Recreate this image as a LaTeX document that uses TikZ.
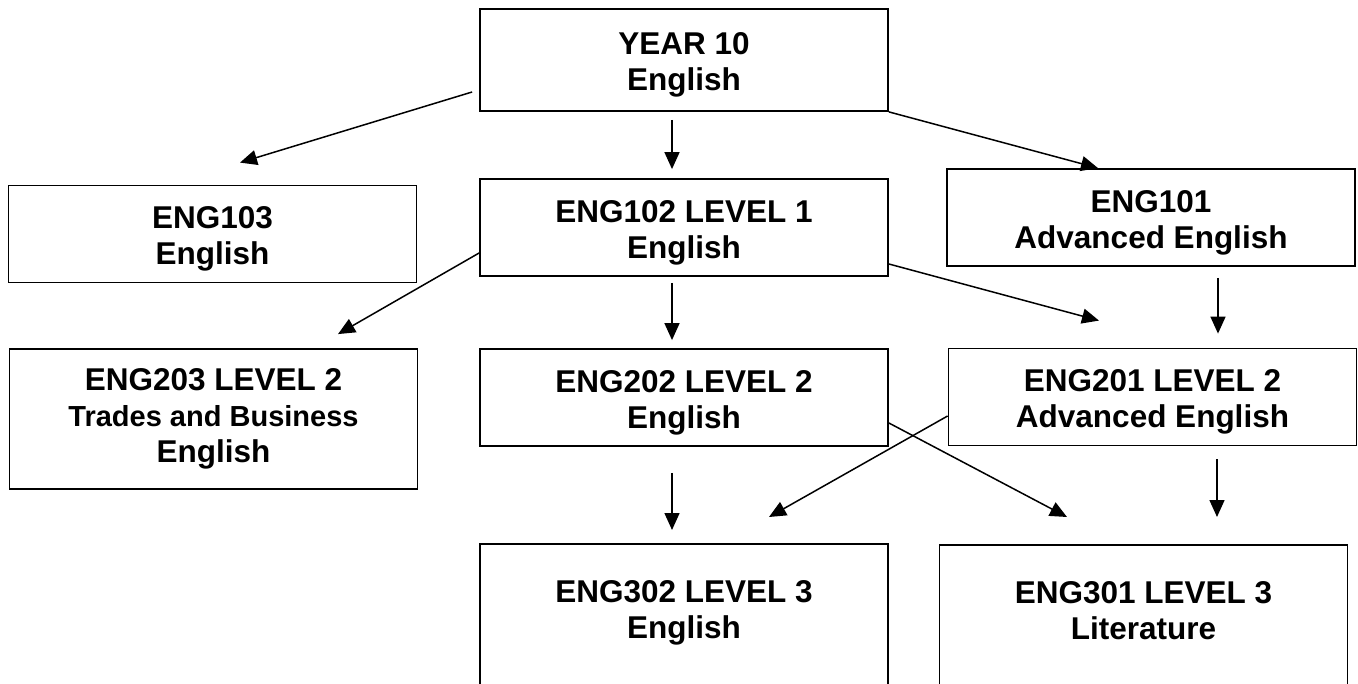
\documentclass[tikz,border=0pt]{standalone}
\usepackage{fontspec}
\setmainfont{Liberation Sans}
\usetikzlibrary{arrows.meta}

\begin{document}
\begin{tikzpicture}[x=1pt, y=-1pt,
  course/.style={draw, line width=1.8pt, align=center, inner sep=0pt,
    minimum width=408pt, minimum height=97pt,
    font=\fontsize{31.5}{36}\selectfont\bfseries},
  two/.style={text height=68pt},
  tall/.style={anchor=north, text height=95pt, text depth=120pt},
  arr/.style={-{Triangle[length=17pt, width=15pt]}, line width=1.5pt}]

\useasboundingbox (0,0) rectangle (1358,684);

% year 10 and level 1
\node[course, two, minimum height=102pt] (y10) at (684,60) {YEAR 10\\English};
\node[course, two] (e103) at (212.5,234) {ENG103\\English};
\node[course, two] (e102) at (684,227.5) {ENG102 LEVEL 1\\English};
\node[course, two] (e101) at (1151,217.5) {ENG101\\Advanced English};

% level 2
\node[course, minimum height=140pt] (e203) at (213.5,419)
  {ENG203 LEVEL 2\\{\fontsize{29}{35}\selectfont Trades and Business}\\English};
\node[course, two] (e202) at (684,397.5) {ENG202 LEVEL 2\\English};
\node[course, two] (e201) at (1152.5,397) {ENG201 LEVEL 2\\Advanced English};

% level 3
\node[course, tall] (e302) at (684,543) {ENG302 LEVEL 3\\English};
\node[course, tall] (e301) at (1143.5,544) {ENG301 LEVEL 3\\Literature};

% arrows
\draw[arr] ([shift={(-7,32)}]y10.west) -- ([shift={(27.5,-22)}]e103.north);
\draw[arr] ([shift={(-12,8)}]y10.south) -- ([shift={(-12,-9)}]e102.north);
\draw[arr] (y10.south east) -- ([shift={(-53,0)}]e101.north);

\draw[arr] ([shift={(0,25.5)}]e102.west) -- ([shift={(124.5,-14)}]e203.north);
\draw[arr] ([shift={(-12,6)}]e102.south) -- ([shift={(-12,-8)}]e202.north);
\draw[arr] ([shift={(0,36.5)}]e102.east) -- ([shift={(-53.5,-27)}]e201.north);
\draw[arr] ([shift={(67,11)}]e101.south) -- ([shift={(65.5,-14)}]e201.north);

\draw[arr] ([shift={(-12,26)}]e202.south) -- ([shift={(-12,-13)}]e302.north);
\draw[arr] ([shift={(0,25.5)}]e202.east) -- ([shift={(-76.5,-27)}]e301.north);
\draw[arr] ([shift={(0,19)}]e201.west) -- ([shift={(85,-26)}]e302.north);
\draw[arr] ([shift={(64.5,13)}]e201.south) -- ([shift={(73.5,-27)}]e301.north);

\end{tikzpicture}
\end{document}
